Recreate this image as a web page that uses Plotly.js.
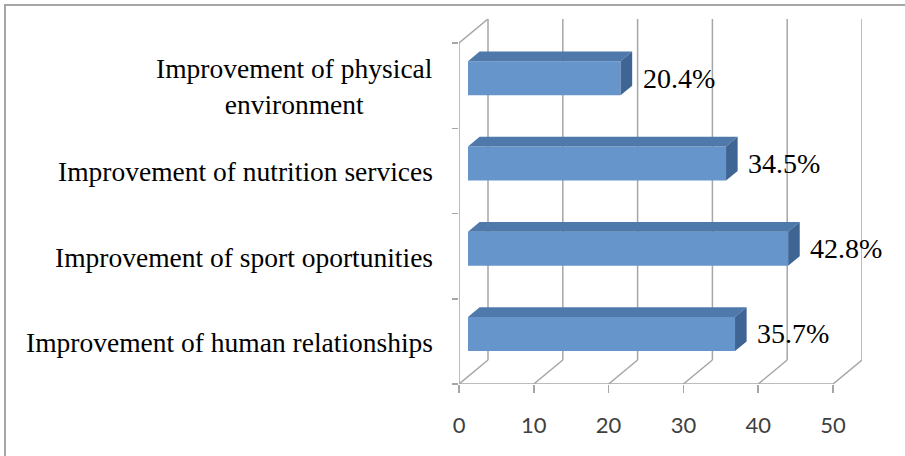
<!DOCTYPE html>
<html>
<head>
<meta charset="utf-8">
<script src="https://cdn.plot.ly/plotly-3.0.1.min.js"></script>
<style>
html,body{margin:0;padding:0;background:#fff;}
#chart{width:905px;height:456px;}
</style>
</head>
<body>
<div id="chart"></div>
<script>
// ---- data ----
const categories = [
  'Improvement of human relationships',
  'Improvement of sport oportunities',
  'Improvement of nutrition services',
  'Improvement of physical<br>environment'
];
const values = [35.7, 42.8, 34.5, 20.4];
const tickValues = [0, 10, 20, 30, 40, 50];

// ---- geometry (oblique 3D look) ----
const W = 905, H = 456;
const mL = 459, mR = 43, mT = 19, mB = 72;
const plotW = W - mL - mR, plotH = H - mT - mB;
const xMax = 50;
const depthX = 3.877;   // back-wall offset in x units
const depthY = 0.2815;  // back-wall offset in category units
const f1 = 0.31, f2 = 0.71; // bar front / back depth fractions
const halfH = 0.2;
const grid = '#a6a6a6';
const serif = '"Liberation Serif", "Times New Roman", serif';

const b0 = depthX * f1;
const yc = values.map((v, i) => i + depthY * f1);
const ddx = depthX * (f2 - f1), ddy = depthY * (f2 - f1);

// top faces & side faces
const topX = [], topY = [], sideX = [], sideY = [];
values.forEach((v, i) => {
  const y = yc[i];
  topX.push(b0, b0 + v, b0 + v + ddx, b0 + ddx, b0, null);
  topY.push(y + halfH, y + halfH, y + halfH + ddy, y + halfH + ddy, y + halfH, null);
  sideX.push(b0 + v, b0 + v + ddx, b0 + v + ddx, b0 + v, b0 + v, null);
  sideY.push(y - halfH, y - halfH + ddy, y + halfH + ddy, y + halfH, y - halfH, null);
});

const traces = [
  {type: 'scatter', mode: 'lines', x: topX, y: topY, fill: 'toself',
   fillcolor: '#4f79ab', line: {width: 0}, hoverinfo: 'skip', showlegend: false},
  {type: 'scatter', mode: 'lines', x: sideX, y: sideY, fill: 'toself',
   fillcolor: '#3f6595', line: {width: 0}, hoverinfo: 'skip', showlegend: false},
  {type: 'bar', orientation: 'h', x: values, y: yc, base: b0, width: 2 * halfH,
   marker: {color: '#6695cb', line: {width: 0}}, hoverinfo: 'x', showlegend: false}
];

// wall / floor lines
const shapes = [];
const ln = (x0, y0, x1, y1) => shapes.push({type: 'line', xref: 'x', yref: 'y', x0, y0, x1, y1,
  layer: 'below', line: {color: grid, width: 1.5}});
tickValues.forEach(t => {
  ln(t + depthX, -0.5 + depthY, t + depthX, 3.5 + depthY); // back wall gridline
  ln(t, -0.5, t + depthX, -0.5 + depthY);                 // floor diagonal
});
ln(0, -0.5, 0, 3.5);                        // front left edge
ln(0, 3.5, depthX, 3.5 + depthY);           // top left diagonal
ln(0, -0.5, xMax, -0.5);                    // front floor edge
// outer chart border
shapes.push({type: 'rect', xref: 'paper', yref: 'paper',
  x0: (5 - mL) / plotW, x1: (912 - mL) / plotW,
  y0: (H - mB - 462) / plotH, y1: (H - mB - 5) / plotH,
  line: {color: '#a6a6a6', width: 2}, fillcolor: 'rgba(0,0,0,0)', layer: 'below'});

const annotations = [];
categories.forEach((c, i) => annotations.push({
  xref: 'paper', yref: 'y', x: -24 / plotW, y: i, yshift: -1, xanchor: 'right', yanchor: 'middle',
  text: c, align: 'center', showarrow: false,
  font: {family: serif, size: 27.5, color: '#000'}
}));
values.forEach((v, i) => annotations.push({
  xref: 'x', yref: 'y', x: b0 + v, y: yc[i], xshift: 20, xanchor: 'left', yanchor: 'middle',
  text: v.toFixed(1) + '%', showarrow: false,
  font: {family: serif, size: 28, color: '#000'}
}));

const layout = {
  width: W, height: H,
  margin: {l: mL, r: mR, t: mT, b: mB, pad: 0},
  paper_bgcolor: '#fff', plot_bgcolor: 'rgba(0,0,0,0)',
  showlegend: false,
  xaxis: {range: [0, xMax + depthX], tickvals: tickValues, ticks: 'outside', ticklen: 8,
    tickwidth: 1.5, tickcolor: grid, showgrid: false, zeroline: false, showline: false,
    ticklabelstandoff: 14, fixedrange: true,
    tickfont: {family: 'Lato, "Open Sans", sans-serif', size: 22, color: '#404040'}},
  yaxis: {range: [-0.5, 3.5 + depthY], showticklabels: false, showgrid: false,
    zeroline: false, ticks: '', showline: false, fixedrange: true},
  yaxis2: {overlaying: 'y', side: 'left', range: [-0.5, 3.5 + depthY],
    tickvals: [-0.5, 0.5, 1.5, 2.5, 3.5], ticks: 'outside', ticklen: 6, tickwidth: 1.5,
    tickcolor: grid, showticklabels: false, showgrid: false, zeroline: false, showline: false,
    fixedrange: true},
  shapes, annotations
};
// dummy trace to activate yaxis2
traces.push({type: 'scatter', x: [null], y: [null], yaxis: 'y2', hoverinfo: 'skip', showlegend: false});

Plotly.newPlot('chart', traces, layout, {displayModeBar: false, staticPlot: true});
</script>
</body>
</html>
